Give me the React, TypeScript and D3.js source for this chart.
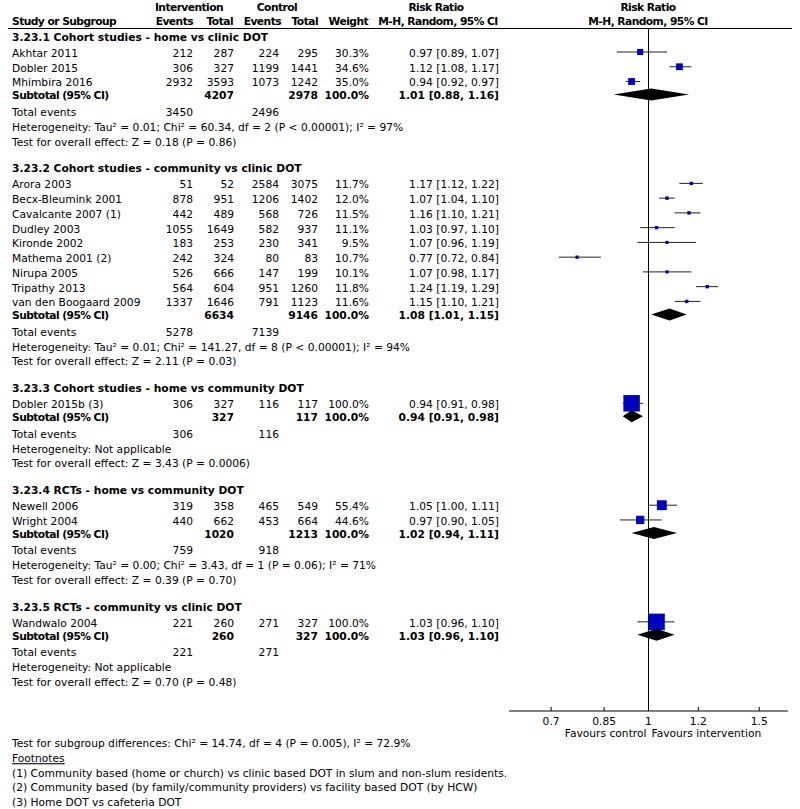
import React from "react";
import * as d3 from "d3";

// ---------- DATA ----------
const groupTitles = [
  "3.23.1 Cohort studies - home vs clinic DOT",
  "3.23.2 Cohort studies - community vs clinic DOT",
  "3.23.3 Cohort studies - home vs community DOT",
  "3.23.4 RCTs - home vs community DOT",
  "3.23.5 RCTs - community vs clinic DOT",
];

const studyNames = [
  "Akhtar 2011", "Dobler 2015", "Mhimbira 2016",
  "Arora 2003", "Becx-Bleumink 2001", "Cavalcante 2007 (1)", "Dudley 2003", "Kironde 2002",
  "Mathema 2001 (2)", "Nirupa 2005", "Tripathy 2013", "van den Boogaard 2009",
  "Dobler 2015b (3)",
  "Newell 2006", "Wright 2004",
  "Wandwalo 2004",
];
const studyGroup = [0, 0, 0, 1, 1, 1, 1, 1, 1, 1, 1, 1, 2, 3, 3, 4];
const intEvents = [212, 306, 2932, 51, 878, 442, 1055, 183, 242, 526, 564, 1337, 306, 319, 440, 221];
const intTotal = [287, 327, 3593, 52, 951, 489, 1649, 253, 324, 666, 604, 1646, 327, 358, 662, 260];
const ctlEvents = [224, 1199, 1073, 2584, 1206, 568, 582, 230, 80, 147, 951, 791, 116, 465, 453, 271];
const ctlTotal = [295, 1441, 1242, 3075, 1402, 726, 937, 341, 83, 199, 1260, 1123, 117, 549, 664, 327];
const weights = [30.3, 34.6, 35.0, 11.7, 12.0, 11.5, 11.1, 9.5, 10.7, 10.1, 11.8, 11.6, 100.0, 55.4, 44.6, 100.0];
const rr = [0.97, 1.12, 0.94, 1.17, 1.07, 1.16, 1.03, 1.07, 0.77, 1.07, 1.24, 1.15, 0.94, 1.05, 0.97, 1.03];
const rrLo = [0.89, 1.08, 0.92, 1.12, 1.04, 1.10, 0.97, 0.96, 0.72, 0.98, 1.19, 1.10, 0.91, 1.00, 0.90, 0.96];
const rrHi = [1.07, 1.17, 0.97, 1.22, 1.10, 1.21, 1.10, 1.19, 0.84, 1.17, 1.29, 1.21, 0.98, 1.11, 1.05, 1.10];

const subIntTotal = [4207, 6634, 327, 1020, 260];
const subCtlTotal = [2978, 9146, 117, 1213, 327];
const subRR = [1.01, 1.08, 0.94, 1.02, 1.03];
const subLo = [0.88, 1.01, 0.91, 0.94, 0.96];
const subHi = [1.16, 1.15, 0.98, 1.11, 1.10];
const totIntEvents = [3450, 5278, 306, 759, 221];
const totCtlEvents = [2496, 7139, 116, 918, 271];
const heterogeneity = [
  "Heterogeneity: Tau\u00b2 = 0.01; Chi\u00b2 = 60.34, df = 2 (P < 0.00001); I\u00b2 = 97%",
  "Heterogeneity: Tau\u00b2 = 0.01; Chi\u00b2 = 141.27, df = 8 (P < 0.00001); I\u00b2 = 94%",
  "Heterogeneity: Not applicable",
  "Heterogeneity: Tau\u00b2 = 0.00; Chi\u00b2 = 3.43, df = 1 (P = 0.06); I\u00b2 = 71%",
  "Heterogeneity: Not applicable",
];
const overallEffect = [
  "Test for overall effect: Z = 0.18 (P = 0.86)",
  "Test for overall effect: Z = 2.11 (P = 0.03)",
  "Test for overall effect: Z = 3.43 (P = 0.0006)",
  "Test for overall effect: Z = 0.39 (P = 0.70)",
  "Test for overall effect: Z = 0.70 (P = 0.48)",
];
const axisTicks = [0.7, 0.85, 1, 1.2, 1.5];
const axisDomain = [0.6, 1 / 0.6];
const subgroupTest = "Test for subgroup differences: Chi\u00b2 = 14.74, df = 4 (P = 0.005), I\u00b2 = 72.9%";
const footnotes = [
  "(1) Community based (home or church) vs clinic based DOT in slum and non-slum residents.",
  "(2) Community based (by family/community providers) vs facility based DOT (by HCW)",
  "(3) Home DOT vs cafeteria DOT",
];

// ---------- LAYOUT ----------
const FONT = "'DejaVu Sans', Verdana, sans-serif";
const FS = 10.7;
const BL = 3.9; // baseline offset from visual centre
const LS_BOLD = -0.55;
const colX = { name: 12, ie: 193, it: 234, ce: 279, ct: 318, w: 369, rr: 499 };

const x = d3.scaleLog().domain(axisDomain).range([509, 788]);
const xOne = x(1);

type Row =
  | { kind: "header"; g: number; y: number }
  | { kind: "study"; i: number; y: number }
  | { kind: "subtotal"; g: number; y: number }
  | { kind: "total"; g: number; y: number }
  | { kind: "het"; g: number; y: number }
  | { kind: "test"; g: number; y: number };

const rows: Row[] = [];
{
  let y = 37;
  groupTitles.forEach((_, g) => {
    if (g > 0) y += 26.8;
    rows.push({ kind: "header", g, y });
    y += 16;
    const idx = studyGroup.map((sg, i) => (sg === g ? i : -1)).filter((i) => i >= 0);
    idx.forEach((i, k) => {
      if (k > 0) y += 14.75;
      rows.push({ kind: "study", i, y });
    });
    y += 13;
    rows.push({ kind: "subtotal", g, y });
    y += 16.5;
    rows.push({ kind: "total", g, y });
    y += 14.8;
    rows.push({ kind: "het", g, y });
    y += 14.8;
    rows.push({ kind: "test", g, y });
  });
}

const axisY = 711;
const fmt2 = (v: number) => v.toFixed(2);
const ciText = (m: number, l: number, h: number) => `${fmt2(m)} [${fmt2(l)}, ${fmt2(h)}]`;
const sqSide = (w: number) => 1.67 + 0.148 * w;

const T = (props: any) => (
  <text fontFamily={FONT} fontSize={FS} fill="#000" {...props} />
);
const B = (props: any) => (
  <text fontFamily={FONT} fontSize={FS} fill="#000" fontWeight="bold" letterSpacing={LS_BOLD} {...props} />
);

export default function App() {
  return (
    <svg
      width={800}
      height={809}
      style={{ position: "absolute", left: 0, top: 0, background: "#fff" }}
    >
      <rect x={0} y={0} width={800} height={809} fill="#fff" />
      {/* Column headers */}
      <B x={189} y={7 + BL} textAnchor="middle">Intervention</B>
      <B x={277} y={7 + BL} textAnchor="middle">Control</B>
      <B x={436} y={7 + BL} textAnchor="middle">Risk Ratio</B>
      <B x={648} y={7 + BL} textAnchor="middle">Risk Ratio</B>
      <B x={colX.name} y={21 + BL}>Study or Subgroup</B>
      <B x={colX.ie} y={21 + BL} textAnchor="end">Events</B>
      <B x={colX.it - 1} y={21 + BL} textAnchor="end">Total</B>
      <B x={colX.ce + 2} y={21 + BL} textAnchor="end">Events</B>
      <B x={colX.ct} y={21 + BL} textAnchor="end">Total</B>
      <B x={colX.w - 1} y={21 + BL} textAnchor="end">Weight</B>
      <B x={438} y={21 + BL} textAnchor="middle">M-H, Random, 95% CI</B>
      <B x={648} y={21 + BL} textAnchor="middle">M-H, Random, 95% CI</B>
      <line x1={8} x2={792} y1={28.5} y2={28.5} stroke="#000" strokeWidth={1} />

      {/* Line of no effect */}
      <line x1={xOne} x2={xOne} y1={28.5} y2={axisY} stroke="#000" strokeWidth={1} />

      {rows.map((r, k) => {
        const by = r.y + BL;
        if (r.kind === "header") {
          return (
            <T key={k} x={colX.name} y={by} fontWeight="bold">{groupTitles[r.g]}</T>
          );
        }
        if (r.kind === "study") {
          const i = r.i;
          const s = sqSide(weights[i]);
          return (
            <g key={k}>
              <T x={colX.name} y={by}>{studyNames[i]}</T>
              <T x={colX.ie} y={by} textAnchor="end">{intEvents[i]}</T>
              <T x={colX.it} y={by} textAnchor="end">{intTotal[i]}</T>
              <T x={colX.ce} y={by} textAnchor="end">{ctlEvents[i]}</T>
              <T x={colX.ct} y={by} textAnchor="end">{ctlTotal[i]}</T>
              <T x={colX.w} y={by} textAnchor="end">{weights[i].toFixed(1) + "%"}</T>
              <T x={colX.rr} y={by} textAnchor="end">{ciText(rr[i], rrLo[i], rrHi[i])}</T>
              <line
                x1={x(rrLo[i])}
                x2={x(rrHi[i])}
                y1={r.y - 1}
                y2={r.y - 1}
                stroke="#222"
                strokeWidth={1}
              />
              <rect
                x={x(rr[i]) - s / 2}
                y={r.y - 1 - s / 2}
                width={s}
                height={s}
                fill="#0000C0"
              />
            </g>
          );
        }
        if (r.kind === "subtotal") {
          const g = r.g;
          const cy = r.y - 1;
          const pts = [
            [x(subLo[g]), cy],
            [x(subRR[g]), cy - 6],
            [x(subHi[g]), cy],
            [x(subRR[g]), cy + 6],
          ];
          return (
            <g key={k}>
              <B x={colX.name} y={by}>Subtotal (95% CI)</B>
              <T x={colX.it} y={by} textAnchor="end" fontWeight="bold">{subIntTotal[g]}</T>
              <T x={colX.ct} y={by} textAnchor="end" fontWeight="bold">{subCtlTotal[g]}</T>
              <T x={colX.w} y={by} textAnchor="end" fontWeight="bold">100.0%</T>
              <T x={colX.rr} y={by} textAnchor="end" fontWeight="bold">
                {ciText(subRR[g], subLo[g], subHi[g])}
              </T>
              <path d={d3.line()(pts as [number, number][]) + "Z"} fill="#000" />
            </g>
          );
        }
        if (r.kind === "total") {
          return (
            <g key={k}>
              <T x={colX.name} y={by}>Total events</T>
              <T x={colX.ie} y={by} textAnchor="end">{totIntEvents[r.g]}</T>
              <T x={colX.ce} y={by} textAnchor="end">{totCtlEvents[r.g]}</T>
            </g>
          );
        }
        if (r.kind === "het") {
          return (
            <T key={k} x={colX.name} y={by}>{heterogeneity[r.g]}</T>
          );
        }
        return (
          <T key={k} x={colX.name} y={by}>{overallEffect[r.g]}</T>
        );
      })}

      {/* Axis */}
      <line x1={x.range()[0]} x2={x.range()[1]} y1={axisY} y2={axisY} stroke="#000" strokeWidth={1} />
      {axisTicks.map((t) => (
        <g key={t}>
          <line x1={x(t)} x2={x(t)} y1={axisY - 4} y2={axisY} stroke="#000" strokeWidth={1} />
          <T x={x(t)} y={721 + BL} textAnchor="middle">{String(t)}</T>
        </g>
      ))}
      <T x={xOne - 2} y={733.5 + BL} textAnchor="end">Favours control</T>
      <T x={xOne + 3} y={733.5 + BL}>Favours intervention</T>

      {/* Footer */}
      <T x={colX.name} y={743.5 + BL}>{subgroupTest}</T>
      <T x={colX.name} y={758.3 + BL} textDecoration="underline">Footnotes</T>
      {footnotes.map((f, i) => (
        <T key={i} x={colX.name} y={773 + i * 14.5 + BL}>{f}</T>
      ))}
    </svg>
  );
}
